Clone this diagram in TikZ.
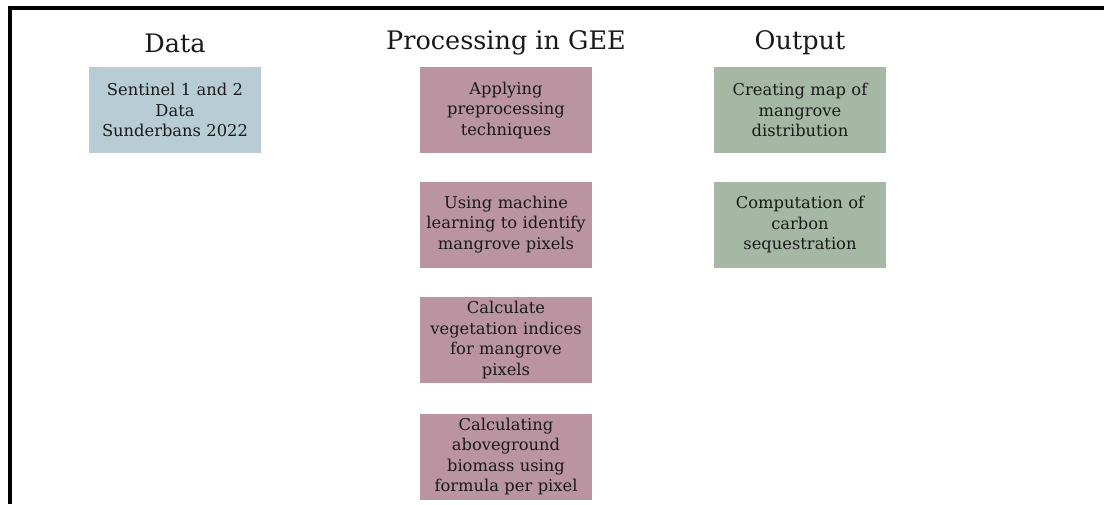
\documentclass[tikz,border=0pt]{standalone}
\usepackage{fontspec}
\setmainfont{DejaVu Serif}
\definecolor{databox}{RGB}{183,205,211}
\definecolor{procbox}{RGB}{186,149,161}
\definecolor{outbox}{RGB}{164,184,164}
\definecolor{txt}{RGB}{25,25,25}
\tikzset{
  box/.style={minimum width=172pt, minimum height=86pt, text width=170pt, align=center, inner sep=0pt,
    font=\fontsize{16.3}{20.5}\selectfont, text=txt},
  head/.style={font=\fontsize{25.5}{30}\selectfont, text=txt, inner sep=0pt},
}
\begin{document}
\begin{tikzpicture}[x=1pt,y=-1pt]
\useasboundingbox[fill=white] (0,0) rectangle (1104,504);
\draw[line width=4pt] (1104,8) -- (10,8) -- (10,504);
\node[head] (hdata) at (175,43) {Data};
\node[head] (hproc) at (506,43) {Processing in GEE};
\node[head] (hout) at (800,43) {Output};
\node[box, fill=databox] (d1) at (175,110) {Sentinel 1 and 2\\Data\\Sunderbans 2022};
\node[box, fill=procbox] (p1) at (506,110) {Applying\\preprocessing\\techniques};
\node[box, fill=procbox] (p2) at (506,224.5) {Using machine\\learning to identify\\mangrove pixels};
\node[box, fill=procbox] (p3) at (506,340) {Calculate\\vegetation indices\\for mangrove\\pixels};
\node[box, fill=procbox] (p4) at (506,456.5) {Calculating\\aboveground\\biomass using\\formula per pixel};
\node[box, fill=outbox] (o1) at (800,110) {Creating map of\\mangrove\\distribution};
\node[box, fill=outbox] (o2) at (800,224.5) {Computation of\\carbon\\sequestration};
\end{tikzpicture}
\end{document}
